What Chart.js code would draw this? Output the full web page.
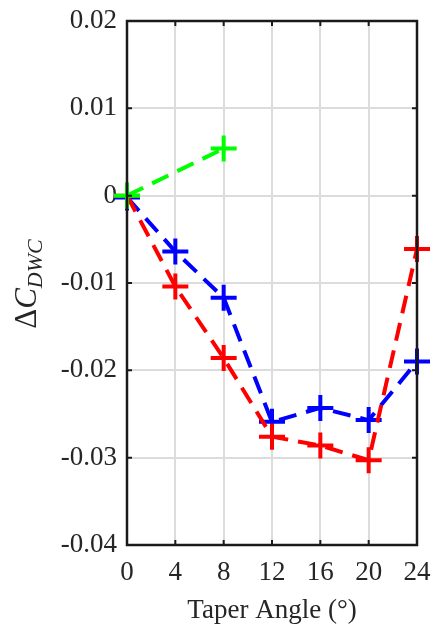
<!DOCTYPE html>
<html>
<head>
<meta charset="utf-8">
<script src="https://cdn.jsdelivr.net/npm/chart.js@4"></script>
<style>
  html, body { margin: 0; padding: 0; background: #fff; }
  #wrap { width: 435px; height: 627px; }
</style>
</head>
<body>
<div id="wrap"><canvas id="dwcChart"></canvas></div>
<script>
// taper angles (deg) and delta C_DWC values
const angles = [0, 4, 8, 12, 16, 20, 24];
const greenAngles = [0, 8];
const greenValues = [0, 0.0054];
const redValues = [0, -0.0104, -0.0186, -0.0276, -0.0286, -0.0303, -0.0061];
const blueValues = [-0.0002, -0.0064, -0.0117, -0.0259, -0.0243, -0.0257, -0.019];
const xTicks = [0, 4, 8, 12, 16, 20, 24];
const yTicks = [-0.04, -0.03, -0.02, -0.01, 0, 0.01, 0.02];

const serif = "'Liberation Serif', 'DejaVu Serif', serif";

function toPoints(xs, ys) {
    return xs.map((x, i) => ({ x: x, y: ys[i] }));
}

function series(label, xs, ys, color) {
    return {
        label: label,
        data: toPoints(xs, ys),
        borderColor: color,
        backgroundColor: color,
        borderWidth: 4,
        borderDash: [18, 10],
        pointStyle: 'cross',
        pointRadius: 13,
        pointHoverRadius: 13,
        pointBorderWidth: 4,
        fill: false,
        tension: 0,
        clip: false
    };
}

// box around the plot with inward tick marks, like matlab
const boxPlugin = {
    id: 'box',
    afterDatasetsDraw(chart) {
        const c = chart.ctx;
        const a = chart.chartArea;
        const xs = chart.scales.x, ys = chart.scales.y;
        c.save();
        c.strokeStyle = '#1a1a1a';
        c.lineWidth = 2;
        c.beginPath();
        xTicks.forEach(t => {
            const px = xs.getPixelForValue(t);
            c.moveTo(px, a.bottom); c.lineTo(px, a.bottom - 5);
            c.moveTo(px, a.top); c.lineTo(px, a.top + 5);
        });
        yTicks.forEach(t => {
            const py = ys.getPixelForValue(t);
            c.moveTo(a.left, py); c.lineTo(a.left + 5, py);
            c.moveTo(a.right, py); c.lineTo(a.right - 5, py);
        });
        c.stroke();
        c.lineWidth = 2.5;
        c.strokeRect(a.left, a.top, a.right - a.left, a.bottom - a.top);
        c.restore();
    }
};

// y title with subscript: \Delta C_{DWC}
const yTitlePlugin = {
    id: 'yTitle',
    afterDraw(chart) {
        const c = chart.ctx;
        c.save();
        c.translate(36, 284);
        c.rotate(-Math.PI / 2);
        c.fillStyle = '#262626';
        c.textBaseline = 'alphabetic';
        const main = '31px ' + serif;
        const mainIt = 'italic 31px ' + serif;
        const sub = 'italic 22px ' + serif;
        c.font = main;
        const wD = c.measureText('\u0394').width;
        c.font = mainIt;
        const wC = c.measureText('C').width;
        c.font = sub;
        const wS = c.measureText('DWC').width;
        let x = -(wD + wC + wS) / 2;
        c.font = main;
        c.fillText('\u0394', x, 0);
        x += wD;
        c.font = mainIt;
        c.fillText('C', x, 0);
        x += wC;
        c.font = sub;
        c.fillText('DWC', x, 6);
        c.restore();
    }
};

const ctx = document.getElementById('dwcChart').getContext('2d');
new Chart(ctx, {
    type: 'line',
    data: {
        datasets: [
            series('green', greenAngles, greenValues, '#00ff00'),
            series('red', angles, redValues, '#ff0000'),
            series('blue', angles, blueValues, '#0000ff')
        ]
    },
    options: {
        responsive: true,
        maintainAspectRatio: false,
        animation: false,
        layout: {
            autoPadding: false,
            padding: { top: 21, right: 18, left: 0, bottom: 0 }
        },
        plugins: {
            legend: { display: false },
            tooltip: { enabled: false }
        },
        scales: {
            x: {
                type: 'linear',
                min: 0,
                max: 24,
                afterBuildTicks: s => { s.ticks = xTicks.map(v => ({ value: v })); },
                afterFit: s => {
                    s.height = 82;
                    s.paddingLeft = 0;
                    s.paddingRight = 0;
                },
                grid: { color: '#dcdcdc', lineWidth: 2, drawTicks: false },
                border: { display: false },
                ticks: {
                    color: '#262626',
                    font: { family: serif, size: 27 },
                    padding: 12,
                    maxRotation: 0
                },
                title: {
                    display: true,
                    text: 'Taper Angle (\u00b0)',
                    color: '#262626',
                    font: { family: serif, size: 27 },
                    padding: { top: 0, bottom: 0 }
                }
            },
            y: {
                type: 'linear',
                min: -0.04,
                max: 0.02,
                afterBuildTicks: s => { s.ticks = yTicks.map(v => ({ value: v })); },
                afterFit: s => {
                    s.width = 127;
                    s.paddingTop = 0;
                    s.paddingBottom = 0;
                },
                grid: { color: '#dcdcdc', lineWidth: 2, drawTicks: false },
                border: { display: false },
                ticks: {
                    color: '#262626',
                    font: { family: serif, size: 27 },
                    padding: 10,
                    callback: v => {
                        const r = Math.round(v * 100) / 100;
                        return r === 0 ? '0' : r.toString();
                    }
                }
            }
        }
    },
    plugins: [boxPlugin, yTitlePlugin]
});
</script>
</body>
</html>
